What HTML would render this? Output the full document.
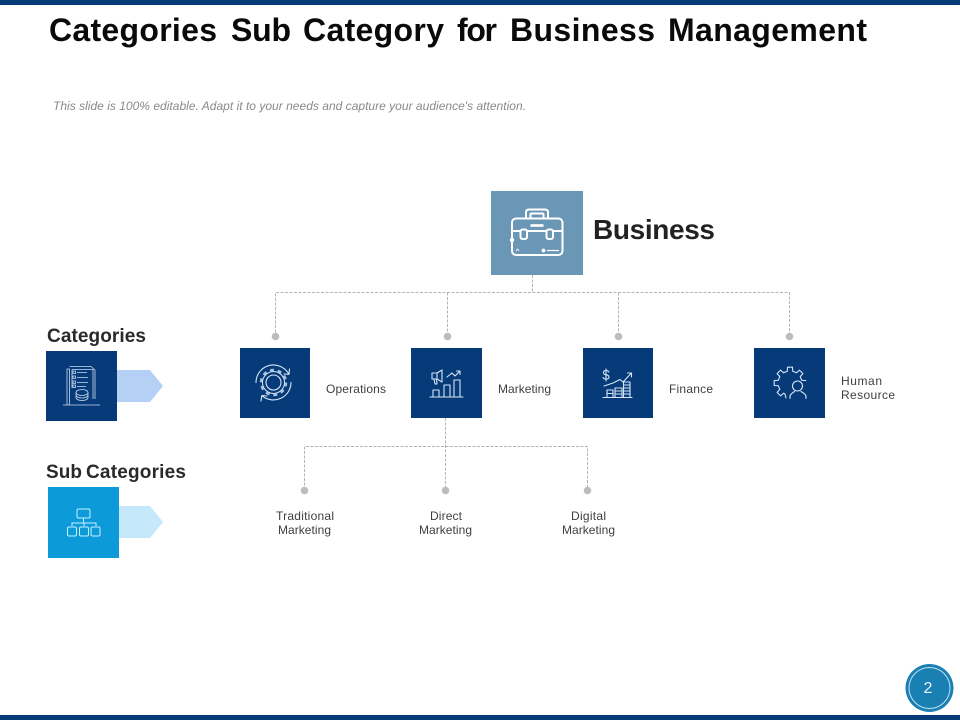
<!DOCTYPE html>
<html><head><meta charset="utf-8"><title>Categories Sub Category for Business Management</title>
<style>html,body{margin:0;padding:0;background:#fff}svg{display:block}text{font-family:"Liberation Sans",sans-serif}</style></head>
<body>
<svg xmlns="http://www.w3.org/2000/svg" width="960" height="720" viewBox="0 0 960 720">
<rect width="960" height="720" fill="#fff"/>
<rect width="960" height="5" fill="#073a78"/>
<rect y="715" width="960" height="5" fill="#073a78"/>
<text y="41" font-size="32" font-weight="700" fill="#0a0a0a"><tspan x="49" textLength="168">Categories</tspan> <tspan x="231" textLength="60">Sub</tspan> <tspan x="303" textLength="141">Category</tspan> <tspan x="457" textLength="40">for</tspan> <tspan x="510" textLength="145">Business</tspan> <tspan x="668" textLength="199">Management</tspan></text>
<text x="53" y="110" font-size="12" font-style="italic" fill="#8a8a8a" textLength="473">This slide is 100% editable. Adapt it to your needs and capture your audience's attention.</text>

<g fill="none" stroke="#b5b5b5" stroke-width="1" stroke-dasharray="3 1.5">
<path d="M532.500 275V292.500M275.500 337V292.500H789.500V337M447.500 292.500V337M618.500 292.500V337"/>
<path d="M445.500 418V490M304.500 490V446.500H587.500V490"/>
</g>
<g fill="#bcbcbc">
<circle cx="275.500" cy="336.500" r="3.800"/><circle cx="447.500" cy="336.500" r="3.800"/><circle cx="618.500" cy="336.500" r="3.800"/><circle cx="789.500" cy="336.500" r="3.800"/>
<circle cx="304.500" cy="490.500" r="3.800"/><circle cx="445.500" cy="490.500" r="3.800"/><circle cx="587.500" cy="490.500" r="3.800"/>
</g>

<rect x="491" y="191" width="92" height="84" fill="#6b97b6"/>
<g fill="none" stroke="#fff" stroke-width="2" stroke-linejoin="round">
<rect x="512" y="218.500" width="50.500" height="36.500" rx="4"/>
<path d="M526 218V212.500q0-3 3-3h16q3 0 3 3v5.500M530.500 218v-3.500q0-1 1-1h11q1 0 1 1v3.500"/>
<path d="M512 231H520M527 231H546M553 231H562"/>
<rect x="520.500" y="229.500" width="6.500" height="9.500" rx="2"/><rect x="546.500" y="229.500" width="6.500" height="9.500" rx="2"/>
<path d="M530.500 225.500H543.500" stroke-width="2.600"/>
<path d="M547 250.500H559" stroke-width="1.200"/>
</g>
<circle cx="512" cy="240" r="2.200" fill="#fff"/><circle cx="543.500" cy="250.500" r="1.900" fill="#fff"/><path d="M516 251l1.500-2 1.500 2" fill="none" stroke="#fff" stroke-width=".8"/>
<text x="593" y="239" font-size="28" font-weight="700" fill="#222" textLength="122">Business</text>

<text x="47" y="342" font-size="19" font-weight="700" fill="#2a2a2a" textLength="99">Categories</text>
<text y="478" font-size="19" font-weight="700" fill="#2a2a2a"><tspan x="46" textLength="36">Sub</tspan> <tspan x="86" textLength="100">Categories</tspan></text>

<path d="M117 370H150L163 386L150 402H117Z" fill="#b4d0f4"/>
<rect x="46" y="351" width="71" height="70" fill="#073a78"/>
<g fill="none" stroke="#c9dbee" stroke-width=".8">
<path d="M67 405V369H69.500V405M69.500 366.500H91L95 370V399M72 369.500H93V399M72 369.500V388"/>
<path d="M73 371h2.500v2.500H73zM73 376h2.500v2.500H73zM73 381h2.500v2.500H73zM73 385h2.500v2.500H73z"/>
<path d="M77 372.500H87M77 377.500H88M77 382.500H88M77 386.500H86"/>
<ellipse cx="82" cy="392.500" rx="6" ry="3"/><path d="M76 392.500v5c0 4 12 4 12 0v-5M76 395c0 4 12 4 12 0"/>
<path d="M63 405H100"/>
</g>

<path d="M119 506H150L163 522L150 538H119Z" fill="#c5e8fb"/>
<rect x="48" y="487" width="71" height="71" fill="#0d9ad9"/>
<g fill="none" stroke="#c6f1ff" stroke-width="1">
<rect x="77" y="509" width="13" height="9" rx="1.500"/>
<path d="M83.500 518V523M72 526V523H96V526M84 523V526"/>
<rect x="67.500" y="527" width="9" height="9" rx="1.500"/><rect x="79.500" y="527" width="9" height="9" rx="1.500"/><rect x="91" y="527" width="9" height="9" rx="1.500"/>
</g>

<g fill="#073a78">
<rect x="240" y="348" width="70" height="70"/><rect x="411" y="348" width="71" height="70"/><rect x="583" y="348" width="70" height="70"/><rect x="754" y="348" width="71" height="70"/>
</g>
<!-- Operations gear -->
<circle cx="273.500" cy="382.500" r="12.600" fill="none" stroke="#a9c4de" stroke-width="2.200" stroke-dasharray="3.960 3.960"/>
<circle cx="273.500" cy="382.500" r="11" fill="#073a78" stroke="#d5e6f6" stroke-width="1"/>
<g fill="none" stroke="#d5e6f6" stroke-width="1.100" stroke-linejoin="round" stroke-linecap="round">
<path d="M256 382.500A17.500 17.500 0 0 1 288.700 373.800M289.500 369L289 374.300L284 374M291 382.500A17.500 17.500 0 0 1 262.300 395.900M261 401L261.800 395.500L267 396"/>
<circle cx="273.500" cy="382.500" r="7.500"/>
<!-- Marketing -->
<path d="M432 373H437V379H432ZM437 373L442 370V382L437 379M434 379L435 384H437L436.500 379"/>
<path d="M447 377L452 373L455 376L460 371M456.500 371H460V374.500"/>
<path d="M433 397V390H439V397M444 397V385H450V397M454 397V380H460V397M430 397H463"/>
<!-- Finance -->
<path d="M609 372q-1-1.500-3-1.500q-2.500 0-2.500 2q0 2 2.500 2.300q3 .3 3 2.300q0 2-3 2q-2 0-3-1.500M606 369V381"/>
<path d="M604 386L613 383L620 379.500L623 382L631 373.500M627.500 373H631.500V377"/>
<path d="M607 397V390H613V397M615 397V388H622V397M623.500 397V382H630V397M607 393.500H613M615 391H622M615 394H622M623.500 385H630M623.500 388H630M623.500 391H630M623.500 394H630M603 397.500H632"/>
<!-- Human Resource -->
<path d="M784.900 393.900L783.600 393.200L780.600 395.900L777.100 392.400L779.800 389.400L778.300 385.700L774.200 385.500V380.500L778.300 380.300L779.800 376.600L777.100 373.600L780.600 370.100L783.600 372.800L787.300 371.300L787.500 367.200H792.500L792.700 371.300L796.400 372.800L799.400 370.100L802.900 373.600L800.200 376.600L801.700 380.300L805.800 380.500"/>
<circle cx="797.500" cy="386" r="5"/>
<path d="M790 398.500V396Q791 393.500 794.500 391.500M806 398.500V396Q805 393.500 801 391.500M784.900 393.900L786 398"/>
</g>
<g font-size="12" fill="#3f3f3f">
<text x="326" y="393" textLength="60">Operations</text>
<text x="498" y="393" textLength="53">Marketing</text>
<text x="669" y="393" textLength="44">Finance</text>
<text x="841" y="385" textLength="41">Human</text>
<text x="841" y="399" textLength="54">Resource</text>
<text x="276" y="520" textLength="58">Traditional</text><text x="278" y="534" textLength="53">Marketing</text>
<text x="430" y="520" textLength="32">Direct</text><text x="419" y="534" textLength="53">Marketing</text>
<text x="571" y="520" textLength="35">Digital</text><text x="562" y="534" textLength="53">Marketing</text>
</g>

<circle cx="929.500" cy="688" r="24" fill="#1a7fb2"/>
<circle cx="929.500" cy="688" r="20.500" fill="none" stroke="#bfe3f3" stroke-width="1"/>
<text x="928" y="693" font-size="16" fill="#e8f4fa" text-anchor="middle">2</text>
</svg>
</body></html>
